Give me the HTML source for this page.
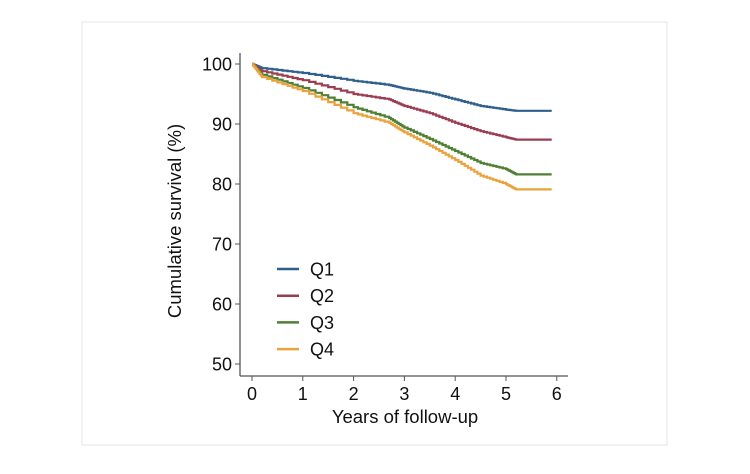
<!DOCTYPE html>
<html><head><meta charset="utf-8"><style>
body{margin:0;background:#fff;width:750px;height:469px;overflow:hidden;font-family:"Liberation Sans",sans-serif}
</style></head><body>
<svg width="750" height="469" id="chart">
<rect x="82" y="22" width="585" height="423" fill="#fff" stroke="#e4e4e4"/>
</svg>
<script>
const years=[0,0.2,1,2,2.7,3,3.5,4,4.5,5,5.2,5.9];
const q1=[100,99.3,98.5,97.2,96.5,95.9,95.2,94.1,93,92.4,92.2,92.2];
const q2=[100,98.8,97.3,95,94.1,93,91.8,90.2,88.8,87.8,87.4,87.4];
const q3=[100,98.2,96,92.8,91,89.4,87.5,85.5,83.5,82.5,81.6,81.6];
const q4=[100,97.8,95.5,91.8,90.2,88.6,86.4,84,81.4,80,79.1,79.1];
const seriesNames=["Q1","Q2","Q3","Q4"];
const colors=["#2f5f8c","#9b3d52","#4f7f33","#eaa33c"];
const xTicks=[0,1,2,3,4,5,6];
const yTicks=[50,60,70,80,90,100];
const NS="http://www.w3.org/2000/svg";
const svg=document.getElementById('chart');
const X=v=>252+v*50.8, Y=v=>64+(100-v)*6;
function mk(t,a,txt){const e=document.createElementNS(NS,t);for(const k in a)e.setAttribute(k,a[k]);if(txt!==undefined)e.textContent=txt;svg.appendChild(e);return e;}
let ax=mk('line',{x1:240,y1:53,x2:240,y2:376,stroke:'#555','stroke-width':1.3});


ax=mk('line',{x1:240,y1:376,x2:568,y2:376,stroke:'#555','stroke-width':1.3});


yTicks.forEach(v=>{mk('line',{x1:235,y1:Y(v),x2:240,y2:Y(v),stroke:'#555'});
const t=mk('text',{x:232,y:Y(v)+6.5,'text-anchor':'end','font-size':18,fill:'#111'},v);

});
xTicks.forEach(v=>{mk('line',{x1:X(v),y1:376,x2:X(v),y2:381,stroke:'#555'});
const t=mk('text',{x:X(v),y:400,'text-anchor':'middle','font-size':18,fill:'#111'},v);

});
let tt=mk('text',{x:405,y:423,'text-anchor':'middle','font-size':18.5,fill:'#111'},'Years of follow-up');


tt=mk('text',{x:0,y:0,'text-anchor':'middle','font-size':18.5,fill:'#111',transform:'translate(181,221) rotate(-90)'},'Cumulative survival (%)');


[q1,q2,q3,q4].forEach((s,i)=>{let d='M'+X(years[0])+','+Y(s[0]);
for(let j=1;j<years.length;j++){const x0=X(years[j-1]),x1=X(years[j]),y0=Y(s[j-1]),y1=Y(s[j]);
const n=8;for(let k=1;k<=n;k++){const xx=x0+(x1-x0)*k/n,yy=y0+(y1-y0)*k/n;d+=' H'+xx.toFixed(1)+' V'+yy.toFixed(1);}}
const p=mk('path',{d:d,fill:'none',stroke:colors[i],'stroke-width':2.2});


const ly=269+i*26.7;
const l=mk('line',{x1:277,y1:ly,x2:299,y2:ly,stroke:colors[i],'stroke-width':2.5});


const lt=mk('text',{x:310,y:ly+6.5,'font-size':18,fill:'#111'},seriesNames[i]);

});
</script>
</body></html>
